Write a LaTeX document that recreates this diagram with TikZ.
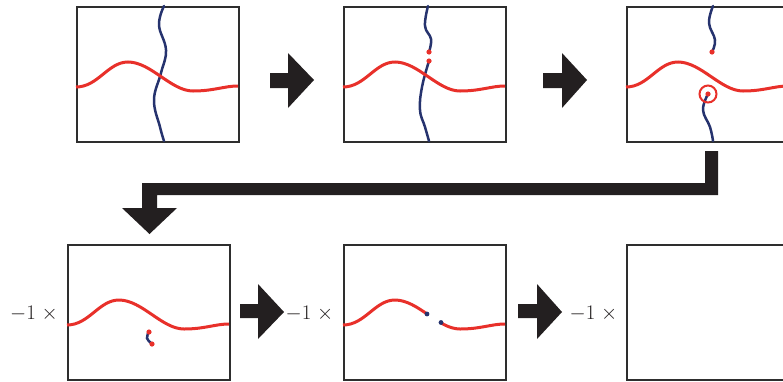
\documentclass[tikz,border=0pt]{standalone}
\definecolor{wred}{HTML}{E8302A}
\definecolor{wblue}{HTML}{26336E}
\definecolor{arrowc}{HTML}{231F20}
\definecolor{framec}{HTML}{2E2E2E}
\begin{document}
\begin{tikzpicture}[x=1pt,y=-1pt,
  panel/.style={draw=framec,line width=1.5pt,minimum width=162pt,minimum height=135pt,inner sep=0pt,anchor=north west},
  redw/.style={wred,line width=3pt},
  bluew/.style={wblue,line width=2.5pt,line cap=round},
  bigarrow/.style={fill=arrowc},
  lbl/.style={font=\fontsize{20.5}{24}\selectfont,text=arrowc,inner sep=0pt,anchor=base west},
  wave/.pic={\draw[redw] (0,81) .. controls (22,81) and (32,56) .. (52,56)
     .. controls (75,56) and (95,85) .. (117,85)
     .. controls (138,85) and (148,80) .. (162,80);}]
\useasboundingbox (0,0) rectangle (783,381);

% panels
\node[panel] (b1) at (76,6) {};
\node[panel] (b2) at (343,6) {};
\node[panel] (b3) at (626,6) {};
\node[panel] (b4) at (67,244) {};
\node[panel] (b5) at (343,244) {};
\node[panel] (b6) at (626,244) {};

% panel 1
\begin{scope}[shift={(b1.north west)}]
  \draw[bluew] plot[smooth,tension=0.7] coordinates {(88,0) (83,19) (90,44) (85,67) (78,94) (84,121) (88,135)};
  \pic{wave};
\end{scope}

% panel 2
\begin{scope}[shift={(b2.north west)}]
  \draw[bluew] plot[smooth,tension=0.7] coordinates {(85,0) (82,20) (88,33) (86,46)};
  \draw[bluew] plot[smooth,tension=0.7] coordinates {(86,55) (79,81) (77,104) (82,121) (86,135)};
  \pic{wave};
  \fill[wred] (86,46) circle (2.6) (86,55) circle (2.6);
\end{scope}

% panel 3
\begin{scope}[shift={(b3.north west)}]
  \draw[bluew] plot[smooth,tension=0.7] coordinates {(87,0) (83,17) (89,34) (86,46)};
  \draw[bluew] plot[smooth,tension=0.7] coordinates {(82,88) (77,104) (84,121) (87,135)};
  \pic{wave};
  \fill[wred] (86,46) circle (2.6) (82,88) circle (2.6);
  \draw[wred,line width=2pt] (82,88) circle (8.5);
\end{scope}

% panel 4
\begin{scope}[shift={(b4.north west)}]
  \pic{wave};
  \draw[bluew] plot[smooth,tension=0.8] coordinates {(82,88) (80,94) (85,100)};
  \fill[wred] (82,88) circle (2.6) (85,100) circle (2.6);
\end{scope}

% panel 5
\begin{scope}[shift={(b5.north west)}]
  \begin{scope}
    \clip (-5,-5) rectangle (84,140);
    \pic{wave};
  \end{scope}
  \begin{scope}
    \clip (98,-5) rectangle (170,140);
    \pic{wave};
  \end{scope}
  \fill[wblue] (84,70) circle (2.4) (98,78.5) circle (2.4);
\end{scope}

% arrows
\fill[bigarrow] (270,73) -- (288,73) -- (288,53) -- (314,80) -- (288,108) -- (288,88) -- (270,88) -- cycle;
\fill[bigarrow] (543,73) -- (562,73) -- (562,53) -- (587,80) -- (562,108) -- (562,88) -- (543,88) -- cycle;
\fill[bigarrow] (705,151) -- (718,151) -- (718,195) -- (157,195) -- (157,208) -- (177,208) -- (149.5,234)
   -- (122,208) -- (142,208) -- (142,183) -- (705,183) -- cycle;
\fill[bigarrow] (240,304) -- (258,304) -- (258,284) -- (284,312) -- (258,339) -- (258,318) -- (240,318) -- cycle;
\fill[bigarrow] (518,304) -- (537,304) -- (537,284) -- (562,312) -- (537,339) -- (537,318) -- (518,318) -- cycle;

% labels
\node[lbl] (l1) at (10,319.5) {$-1\;{\times}$};
\node[lbl] (l2) at (285.5,319.5) {$-1\;{\times}$};
\node[lbl] (l3) at (569.5,319.5) {$-1\;{\times}$};
\end{tikzpicture}
\end{document}
